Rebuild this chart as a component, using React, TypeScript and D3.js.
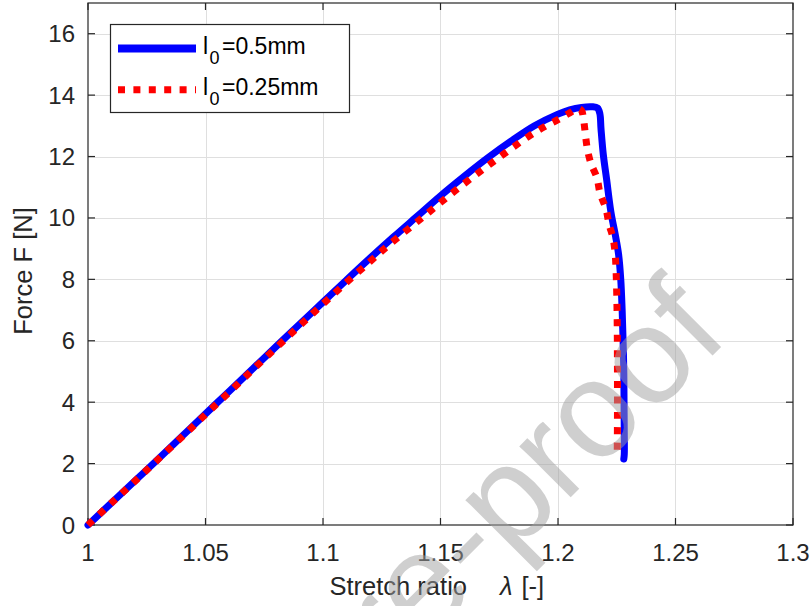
import React from 'react';
import * as d3 from 'd3';

const W = 810;
const H = 606;

// Axis ticks
const xTicks = [1, 1.05, 1.1, 1.15, 1.2, 1.25, 1.3];
const xTickLabels = ['1', '1.05', '1.1', '1.15', '1.2', '1.25', '1.3'];
const yTicks = [0, 2, 4, 6, 8, 10, 12, 14, 16];
const yTickLabels = ['0', '2', '4', '6', '8', '10', '12', '14', '16'];

// Legend entries (subscripted l0 values)
const seriesLabels = ['0.5mm', '0.25mm'];

// Series: l0 = 0.5 mm
const stretch05 = [
  1.0, 1.01, 1.02, 1.03, 1.04, 1.05, 1.06, 1.07, 1.08, 1.09, 1.1, 1.11, 1.12, 1.13,
  1.14, 1.15, 1.16, 1.17, 1.18, 1.19, 1.2, 1.205, 1.21, 1.2145, 1.2168, 1.2178,
  1.2183, 1.2193, 1.2207, 1.2225, 1.2245, 1.2258, 1.2267, 1.2273, 1.2277, 1.228,
  1.2281, 1.2282, 1.2282, 1.228,
];
const force05 = [
  0.0, 0.72, 1.44, 2.16, 2.89, 3.62, 4.35, 5.08, 5.81, 6.54, 7.26, 7.98, 8.69, 9.38,
  10.05, 10.72, 11.35, 11.95, 12.5, 13.0, 13.38, 13.52, 13.6, 13.62, 13.58, 13.4,
  12.9, 12.05, 11.25, 10.2, 9.4, 8.8, 8.0, 7.0, 6.0, 5.0,
  4.0, 3.0, 2.3, 2.15,
];

// Series: l0 = 0.25 mm
const stretch025 = [
  1.0, 1.01, 1.02, 1.03, 1.04, 1.05, 1.06, 1.07, 1.08, 1.09, 1.1, 1.11, 1.12, 1.128,
  1.1427, 1.1576, 1.1732, 1.1874, 1.195, 1.2, 1.205, 1.2085, 1.21, 1.2108, 1.2116,
  1.2125, 1.214, 1.2166, 1.2179, 1.2204, 1.2217, 1.2234, 1.2243, 1.2247, 1.225,
  1.2252, 1.2253, 1.2253, 1.2252,
];
const force025 = [
  0.0, 0.72, 1.43, 2.15, 2.87, 3.6, 4.32, 5.05, 5.77, 6.49, 7.2, 7.9, 8.58, 9.12,
  10.04, 10.97, 11.87, 12.65, 13.0, 13.2, 13.42, 13.56, 13.5, 13.25, 12.76,
  12.24, 11.78, 11.3, 10.8, 10.3, 9.8, 9.35, 8.85, 8.3, 7.5,
  6.5, 5.0, 3.5, 2.28,
];

const FONT = '"Liberation Sans", Arial, Helvetica, sans-serif';
const INK = '#262626';

export default function App() {
  const x = d3.scaleLinear().domain([1, 1.3]).range([88, 793]);
  const y = d3.scaleLinear().domain([0, 17]).range([525, 3]);
  const [x0, x1] = x.range();
  const [yb, yt] = y.range();

  const line = d3
    .line<[number, number]>()
    .x((d) => x(d[0]))
    .y((d) => y(d[1]))
    .curve(d3.curveCatmullRom.alpha(0.5));

  const ptsA = stretch05.map((s, i) => [s, force05[i]] as [number, number]);
  const ptsB = stretch025.map((s, i) => [s, force025[i]] as [number, number]);

  const tickLen = 7;
  const xMid = (x0 + x1) / 2;

  const legendRows = [
    { label: seriesLabels[0], cy: 48.5, color: '#0000ff', dash: undefined as string | undefined, width: 8 },
    { label: seriesLabels[1], cy: 89.7, color: '#ff0000', dash: '7 8.4', width: 7 },
  ];

  return (
    <svg
      width={W}
      height={H}
      viewBox={`0 0 ${W} ${H}`}
      style={{ position: 'absolute', left: 0, top: 0, background: '#fff' }}
      fontFamily={FONT}
    >
      <rect x={0} y={0} width={W} height={H} fill="#fff" />

      {/* grid */}
      <g stroke="#dfdfdf" strokeWidth={1}>
        {xTicks.slice(1, -1).map((t) => (
          <line key={'gx' + t} x1={Math.round(x(t)) + 0.5} x2={Math.round(x(t)) + 0.5} y1={yt} y2={yb} />
        ))}
        {yTicks.slice(1).map((t) => (
          <line key={'gy' + t} x1={x0} x2={x1} y1={Math.round(y(t)) + 0.5} y2={Math.round(y(t)) + 0.5} />
        ))}
      </g>

      {/* axes box and inward ticks */}
      <g stroke={INK} strokeWidth={1.2} fill="none">
        <rect x={x0} y={yt} width={x1 - x0} height={yb - yt} />
        {xTicks.map((t) => (
          <g key={'tx' + t}>
            <line x1={x(t)} x2={x(t)} y1={yb} y2={yb - tickLen} />
            <line x1={x(t)} x2={x(t)} y1={yt} y2={yt + tickLen} />
          </g>
        ))}
        {yTicks.map((t) => (
          <g key={'ty' + t}>
            <line x1={x0} x2={x0 + tickLen} y1={y(t)} y2={y(t)} />
            <line x1={x1} x2={x1 - tickLen} y1={y(t)} y2={y(t)} />
          </g>
        ))}
      </g>

      {/* tick labels */}
      <g fill={INK} fontSize={24}>
        {xTicks.map((t, i) => (
          <text key={'lx' + t} x={x(t)} y={561} textAnchor="middle">
            {xTickLabels[i]}
          </text>
        ))}
        {yTicks.map((t, i) => (
          <text key={'ly' + t} x={75} y={y(t) + 8.5} textAnchor="end">
            {yTickLabels[i]}
          </text>
        ))}
      </g>

      {/* axis labels */}
      <text x={xMid - 111} y={595} fill={INK} fontSize={25.5}>
        Stretch ratio
        <tspan x={xMid + 59.5} fontStyle="italic">λ</tspan>
        <tspan x={xMid + 81}>[-]</tspan>
      </text>
      <text transform={`translate(31.5, 271) rotate(-90)`} textAnchor="middle" fill={INK} fontSize={25.5}>
        Force F [N]
      </text>

      {/* data */}
      <path d={line(ptsA) ?? ''} fill="none" stroke="#0000ff" strokeWidth={7} strokeLinejoin="round" strokeLinecap="round" />
      <path d={line(ptsB) ?? ''} fill="none" stroke="#ff0000" strokeWidth={7} strokeDasharray="7 8.4" strokeLinejoin="round" />

      {/* legend */}
      <g>
        <rect x={110.5} y={24.5} width={239} height={88} fill="#fff" stroke={INK} strokeWidth={1.2} />
        {legendRows.map((r) => (
          <g key={r.label}>
            <line x1={118} x2={196} y1={r.cy} y2={r.cy} stroke={r.color} strokeWidth={r.width} strokeDasharray={r.dash} />
            <g fill="#000" fontSize={23}>
              <text x={203} y={r.cy + 5}>l</text>
              <text x={209.5} y={r.cy + 15} fontSize={18}>0</text>
              <text x={222} y={r.cy + 5}>={r.label}</text>
            </g>
          </g>
        ))}
      </g>

      {/* diagonal watermark */}
      <text
        transform="translate(731, 337) rotate(-45)"
        textAnchor="end"
        fontSize={137}
        fill="rgb(160,160,160)"
        fillOpacity={0.5}
      >
        Journal Pre-proof
      </text>
    </svg>
  );
}
